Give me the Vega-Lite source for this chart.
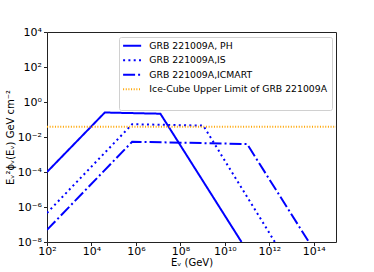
{
  "$schema": "https://vega.github.io/schema/vega-lite/v6.json",
  "width": 289,
  "height": 210,
  "autosize": "none",
  "padding": {"left": 47, "top": 32, "right": 38, "bottom": 30},
  "config": {
    "font": "DejaVu Sans",
    "view": {"stroke": "#222", "strokeWidth": 1},
    "axis": {"grid": false, "domain": false, "tickColor": "#222", "tickSize": 3.5, "labelColor": "#000", "titleColor": "#000", "titleFontWeight": "normal", "labelFont": "DejaVu Sans", "titleFont": "DejaVu Sans"}
  },
  "data": {
    "values": [
      {"s": "GRB 221009A, PH", "x": 100, "y": 0.0001},
      {"s": "GRB 221009A, PH", "x": 39811, "y": 0.251},
      {"s": "GRB 221009A, PH", "x": 12590000, "y": 0.214},
      {"s": "GRB 221009A, PH", "x": 56200000000, "y": 1e-8},
      {"s": "GRB 221009A,IS", "x": 100, "y": 4.57e-7},
      {"s": "GRB 221009A,IS", "x": 676083, "y": 0.0537},
      {"s": "GRB 221009A,IS", "x": 1070000000, "y": 0.0447},
      {"s": "GRB 221009A,IS", "x": 1778000000000, "y": 1e-8},
      {"s": "GRB 221009A,ICMART", "x": 100, "y": 4.9e-8},
      {"s": "GRB 221009A,ICMART", "x": 676083, "y": 0.00537},
      {"s": "GRB 221009A,ICMART", "x": 100000000000, "y": 0.00398},
      {"s": "GRB 221009A,ICMART", "x": 60300000000000, "y": 1e-8},
      {"s": "Ice-Cube Upper Limit of GRB 221009A", "x": 100, "y": 0.039},
      {"s": "Ice-Cube Upper Limit of GRB 221009A", "x": 1e15, "y": 0.039}
    ]
  },
  "mark": {"type": "line", "clip": true},
  "encoding": {
    "x": {
      "field": "x", "type": "quantitative",
      "scale": {"type": "log", "domain": [100, 1e15], "nice": false},
      "axis": {
        "values": [100, 10000, 1000000, 100000000, 10000000000, 1000000000000, 100000000000000],
        "labelExpr": "'10' + (datum.value < 1 ? '⁻' : '') + (abs(round(log(datum.value)/LN10)) >= 10 ? '¹' : '') + ['⁰','¹','²','³','⁴','⁵','⁶','⁷','⁸','⁹'][abs(round(log(datum.value)/LN10)) % 10]",
        "labelFontSize": 11,
        "labelPadding": 0,
        "labelFlush": false,
        "title": "Eᵥ (GeV)",
        "titleFontSize": 10,
        "titlePadding": 1
      }
    },
    "y": {
      "field": "y", "type": "quantitative",
      "scale": {"type": "log", "domain": [1e-8, 10000], "nice": false},
      "axis": {
        "values": [1e-8, 1e-6, 0.0001, 0.01, 1, 100, 10000],
        "labelExpr": "'10' + (datum.value < 1 ? '⁻' : '') + (abs(round(log(datum.value)/LN10)) >= 10 ? '¹' : '') + ['⁰','¹','²','³','⁴','⁵','⁶','⁷','⁸','⁹'][abs(round(log(datum.value)/LN10)) % 10]",
        "labelFontSize": 11,
        "labelPadding": 2,
        "title": "Eᵥ²ϕᵥ(Eᵥ) GeV cm⁻²",
        "titleFontSize": 10,
        "titlePadding": 2
      }
    },
    "color": {
      "field": "s", "type": "nominal",
      "scale": {
        "domain": ["GRB 221009A, PH", "GRB 221009A,IS", "GRB 221009A,ICMART", "Ice-Cube Upper Limit of GRB 221009A"],
        "range": ["#0000ff", "#0000ff", "#0000ff", "#ffa500"]
      },
      "legend": {
        "title": "\u00a0",
        "titleOrient": "bottom",
        "titleFontSize": 10,
        "titlePadding": 2,
        "orient": "none",
        "legendX": 72,
        "legendY": 5,
        "fillColor": "#ffffff",
        "strokeColor": "#d0d0d0",
        "cornerRadius": 2,
        "padding": 4,
        "labelFontSize": 9.3,
        "labelOffset": 17,
        "labelLimit": 400,
        "symbolType": "M-1.3,0H3.86",
        "symbolSize": 49,
        "symbolStrokeWidth": 2,
        "rowPadding": 4.5
      }
    },
    "strokeDash": {
      "field": "s", "type": "nominal",
      "scale": {
        "domain": ["GRB 221009A, PH", "GRB 221009A,IS", "GRB 221009A,ICMART", "Ice-Cube Upper Limit of GRB 221009A"],
        "range": [[1, 0], [2, 3.3], [12, 3, 2, 3], [1, 1.65]]
      }
    },
    "strokeWidth": {
      "field": "s", "type": "nominal",
      "scale": {
        "domain": ["GRB 221009A, PH", "GRB 221009A,IS", "GRB 221009A,ICMART", "Ice-Cube Upper Limit of GRB 221009A"],
        "range": [2, 2, 2, 1]
      }
    }
  }
}
